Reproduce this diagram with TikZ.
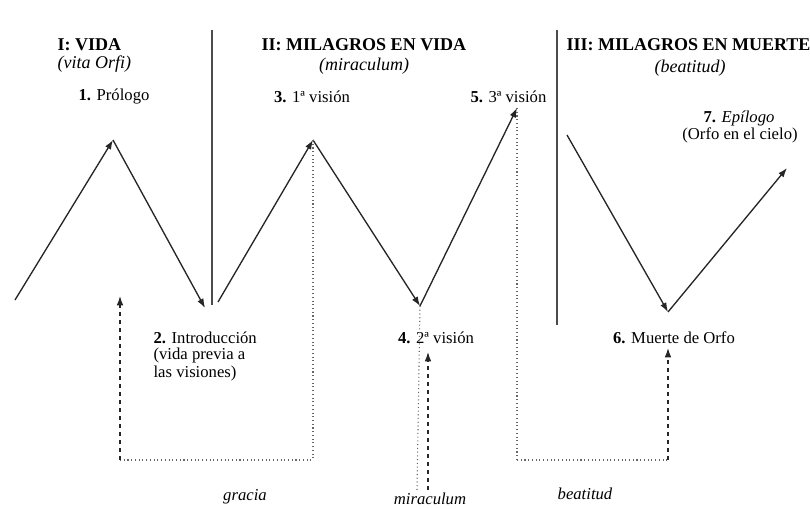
\documentclass[tikz,border=0pt]{standalone}
\usepackage{fontspec}
\setmainfont{Liberation Serif}
\usetikzlibrary{arrows.meta}
\begin{document}
\begin{tikzpicture}[x=0.75pt,y=-0.75pt,
  lbl/.style={font=\fontsize{12.5}{14}\selectfont, inner sep=1pt},
  hdr/.style={font=\fontsize{13.5}{15}\selectfont, inner sep=1pt, align=center},
  plot/.style={draw=black!85, line width=1pt, -{Latex[length=7pt,width=5pt]}},
  sep/.style={draw=black!70, line width=0.9pt},
  dotv/.style={draw=black!60, line width=0.8pt, dotted},
  dasharr/.style={draw=black!85, line width=0.9pt, dash pattern=on 3pt off 3pt, -{Latex[length=7pt,width=5pt]}}]
\useasboundingbox (0,0) rectangle (810,509);
% separators
\coordinate (s1a) at (212,30); \coordinate (s1b) at (212,305);
\coordinate (s2a) at (557,30); \coordinate (s2b) at (557,325);
\draw[sep] (s1a) -- (s1b);
\draw[sep] (s2a) -- (s2b);
% headers
\node[hdr, anchor=west] (h1) at (56,45) {\textbf{I: VIDA}};
\node[hdr, anchor=west] (h1s) at (56,64) {\textit{(vita Orfi)}};
\node[hdr] (h2) at (364,45) {\textbf{II: MILAGROS EN VIDA}};
\node[hdr] (h2s) at (364,66) {\textit{(miraculum)}};
\node[hdr, anchor=west] (h3) at (565,45) {\textbf{III: MILAGROS EN MUERTE}};
\node[hdr] (h3s) at (690,68) {\textit{(beatitud)}};
% points
\coordinate (p0) at (15,300);
\coordinate (p1) at (113,140);
\coordinate (p2) at (205,308);
\coordinate (q0) at (218,302);
\coordinate (p3) at (313,140);
\coordinate (p4) at (420,306);
\coordinate (p5) at (517,108);
\coordinate (r0) at (567,135);
\coordinate (p6) at (668,312);
\coordinate (p7) at (787,168);
% labels
\node[lbl] (l1) at (114,97) {\textbf{1.} Prólogo};
\node[lbl, anchor=west] (l2) at (152,338) {\textbf{2.} Introducción};
\node[lbl, anchor=west] (l2b) at (152,355) {(vida previa a};
\node[lbl, anchor=west] (l2c) at (152,373) {las visiones)};
\node[lbl] (l3) at (312,97) {\textbf{3.} 1ª visión};
\node[lbl] (l4) at (436,338) {\textbf{4.} 2ª visión};
\node[lbl, anchor=east] (l5) at (548,97) {\textbf{5.} 3ª visión};
\node[lbl] (l6) at (674,338) {\textbf{6.} Muerte de Orfo};
\node[lbl, anchor=east] (l7) at (776,118) {\textbf{7.} \textit{Epílogo}};
\node[lbl] (l7b) at (740,135) {(Orfo en el cielo)};
% zigzag
\draw[plot] (p0) -- (p1);
\draw[plot] (p1) -- (p2);
\draw[plot] (q0) -- (p3);
\draw[plot] (p3) -- (p4);
\draw[plot] (p4) -- (p5);
\draw[plot] (r0) -- (p6);
\draw[plot] (p6) -- (p7);
% dotted guides
\coordinate (b1) at (120,460);
\coordinate (b3) at (313,460);
\coordinate (b4) at (417,490);
\coordinate (b5) at (517,460);
\coordinate (b6) at (668,460);
\draw[dotv] (p3) -- (b3);
\draw[dotv] (p5) -- (b5);
\draw[dotv] (p4) -- (b4);
\draw[dotv] (b1) -- (b3);
\draw[dotv] (b5) -- (b6);
% dashed arrows
\coordinate (a1) at (120,296);
\coordinate (a4b) at (428,490);
\coordinate (a4) at (428,352);
\coordinate (a6) at (668,348);
\draw[dasharr] (b1) -- (a1);
\draw[dasharr] (a4b) -- (a4);
\draw[dasharr] (b6) -- (a6);
% bottom labels
\node[lbl] (g1) at (245,497) {\textit{gracia}};
\node[lbl] (g2) at (430,499) {\textit{miraculum}};
\node[lbl] (g3) at (585,494) {\textit{beatitud}};
\end{tikzpicture}
\end{document}
